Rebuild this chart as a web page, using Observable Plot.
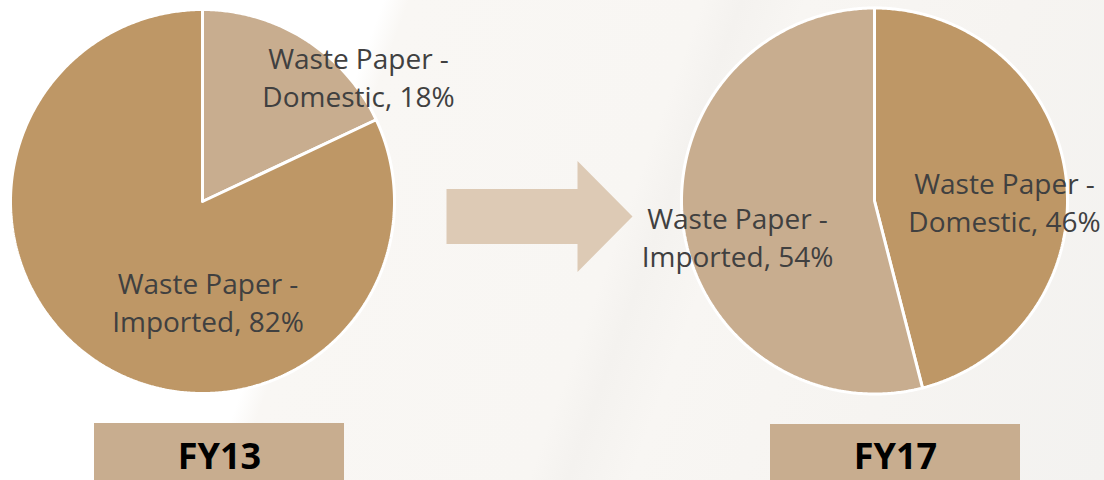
<!DOCTYPE html>
<html><head><meta charset="utf-8">
<script src="https://cdn.jsdelivr.net/npm/d3@7"></script>
<script src="https://cdn.jsdelivr.net/npm/@observablehq/plot@0.6"></script>
<style>
html,body{margin:0;padding:0;}
body{width:1104px;height:480px;overflow:hidden;
 background: linear-gradient(110deg, #ffffff 0%, #ffffff 30%, #f9f7f4 32%, #f8f6f3 55%, #f4f2ef 58%, #f8f6f3 63%, #f6f4f1 80%, #f3f2f0 100%);}
#chart svg{display:block;background:transparent;}
</style></head><body><div id="chart"></div>
<script>
// ---- data ----
const years = ["FY13", "FY17"];
const categories = ["Waste Paper - Domestic", "Waste Paper - Imported"];
const fy13Values = [18, 82];
const fy17Values = [46, 54];
const fy13Colors = ["#C8AD8F", "#BE9766"];
const fy17Colors = ["#BE9766", "#C8AD8F"];

// ---- layout ----
const W = 1104, H = 480;
const layout = [
  {cx: 202, cy: 201, r: 192, labelOffsets: [[156, -132.7], [5.5, 92.3]], box: [94, 344, 423], titleX: 219},
  {cx: 874, cy: 200.5, r: 193, labelOffsets: [[130, -7.2], [-137, 27.8]], box: [770, 1020, 424], titleX: 895}
];
const lineGap = 38.4, titleBaseline = 468;
const arrow = {x0: 446, xh: 577, xt: 632, yc: 216, body: 27.5, head: 55.5};

const series = [
  {year: years[0], values: fy13Values, colors: fy13Colors, L: layout[0]},
  {year: years[1], values: fy17Values, colors: fy17Colors, L: layout[1]}
];

const slicePts = [], labelRows = [], boxes = [], titles = [];
for (const s of series) {
  const {cx, cy, r} = s.L;
  const arcs = d3.pie().sort(null).value(d => d)(s.values);
  arcs.forEach((a, i) => {
    const key = s.year + "-" + i, fill = s.colors[i];
    slicePts.push({key, fill, x: cx, y: cy});
    const n = Math.max(2, Math.ceil((a.endAngle - a.startAngle) / (Math.PI / 360)));
    for (let k = 0; k <= n; k++) {
      const t = a.startAngle + (a.endAngle - a.startAngle) * k / n;
      slicePts.push({key, fill, x: cx + r * Math.sin(t), y: cy - r * Math.cos(t)});
    }
    slicePts.push({key, fill, x: cx, y: cy});
    const parts = categories[i].split(" - ");
    const lines = [parts[0] + " -", parts[1] + ", " + s.values[i] + "%"];
    const [ox, oy] = s.L.labelOffsets[i];
    lines.forEach((t, j) => labelRows.push({text: t, x: cx + ox, y: cy + oy + j * lineGap}));
  });
  boxes.push({x1: s.L.box[0], x2: s.L.box[1], y1: s.L.box[2], y2: H});
  titles.push({text: s.year, x: s.L.titleX, y: titleBaseline});
}
const arrowPts = [
  [arrow.x0, arrow.yc - arrow.body], [arrow.xh, arrow.yc - arrow.body], [arrow.xh, arrow.yc - arrow.head],
  [arrow.xt, arrow.yc], [arrow.xh, arrow.yc + arrow.head], [arrow.xh, arrow.yc + arrow.body],
  [arrow.x0, arrow.yc + arrow.body]
].map(([x, y]) => ({x, y}));

const chart = Plot.plot({
  width: W, height: H, margin: 0,
  x: {domain: [0, W], range: [0, W], axis: null},
  y: {domain: [0, H], range: [0, H], axis: null},
  color: {type: "identity"},
  style: {background: "transparent", overflow: "visible"},
  marks: [
    Plot.line(slicePts, {x: "x", y: "y", z: "key", fill: "fill", stroke: "white", strokeWidth: 3, strokeLinejoin: "miter", curve: "linear"}),
    Plot.line(arrowPts, {x: "x", y: "y", fill: "#DDCAB5", stroke: "none", curve: "linear"}),
    Plot.rect(boxes, {x1: "x1", x2: "x2", y1: "y1", y2: "y2", fill: "#C8AD8F"}),
    Plot.text(labelRows, {x: "x", y: "y", text: "text", lineAnchor: "bottom", textAnchor: "middle",
      fontFamily: "Open Sans", fontSize: 28, fill: "#404040"}),
    Plot.text(titles, {x: "x", y: "y", text: "text", lineAnchor: "bottom", textAnchor: "middle",
      fontFamily: "Open Sans", fontWeight: "bold", fontSize: 36, fill: "#000000"})
  ]
});
document.getElementById("chart").appendChild(chart);
</script>
</body></html>
